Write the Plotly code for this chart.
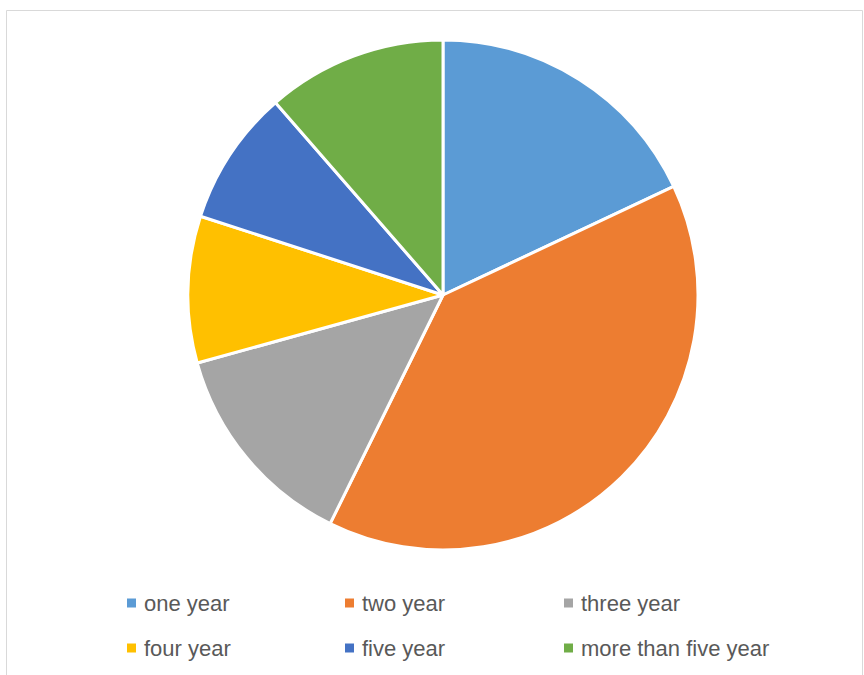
import plotly.graph_objects as go

# Share of respondents by length of experience
labels = ["one year", "two year", "three year", "four year", "five year", "more than five year"]
values = [18.0, 39.3, 13.4, 9.3, 8.6, 11.4]
colors = ["#5B9BD5", "#ED7D31", "#A5A5A5", "#FFC000", "#4472C4", "#70AD47"]

W, H = 864, 675

fig = go.Figure(
    go.Pie(
        labels=labels,
        values=values,
        marker=dict(colors=colors, line=dict(color="white", width=3)),
        sort=False,
        direction="clockwise",
        rotation=0,
        textinfo="none",
        hoverinfo="label+percent",
        showlegend=False,
        domain=dict(x=[(443 - 255) / W, (443 + 255) / W],
                    y=[(H - 550) / H, (H - 40) / H]),
    )
)

# Chart-area frame
shapes = [dict(type="rect", xref="paper", yref="paper",
               x0=6.5 / W, x1=862.5 / W, y0=-10 / H, y1=(H - 10.5) / H,
               line=dict(color="#D9D9D9", width=1), fillcolor="rgba(0,0,0,0)")]

# Legend: three entries per row
col_x = [127, 345, 564]
row_y = [603, 648]
annotations = []
for i, (lab, col) in enumerate(zip(labels, colors)):
    cx = col_x[i % 3]
    cy = row_y[i // 3]
    shapes.append(dict(type="rect", xref="paper", yref="paper",
                       x0=cx / W, x1=(cx + 9) / W,
                       y0=(H - cy - 4.5) / H, y1=(H - cy + 4.5) / H,
                       line=dict(width=0), fillcolor=col))
    annotations.append(dict(xref="paper", yref="paper", x=(cx + 15) / W, y=(H - cy) / H,
                            xanchor="left", yanchor="middle", showarrow=False,
                            text=lab, font=dict(family="Liberation Sans", size=22,
                                                color="#595959")))

fig.update_layout(
    width=W, height=H,
    margin=dict(l=0, r=0, t=0, b=0),
    paper_bgcolor="white",
    plot_bgcolor="white",
    shapes=shapes,
    annotations=annotations,
)

fig.write_html("out.html")
